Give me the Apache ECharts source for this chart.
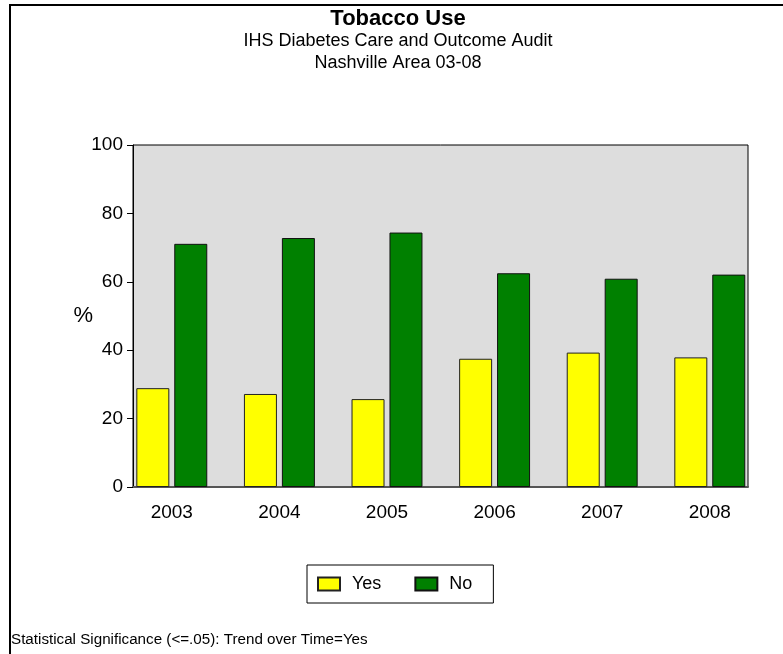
<!DOCTYPE html>
<html>
<head>
<meta charset="utf-8">
<script src="https://cdn.jsdelivr.net/npm/echarts@6/dist/echarts.min.js"></script>
<style>html,body{margin:0;padding:0;background:#fff}#c{width:783px;height:654px}</style>
</head>
<body>
<div id="c"></div>
<script>
var categories = ['2003', '2004', '2005', '2006', '2007', '2008'];
var yesValues = [28.9, 27.2, 25.7, 37.5, 39.3, 37.9];
var noValues = [71.1, 72.8, 74.4, 62.5, 60.9, 62.1];
var yTicks = [0, 20, 40, 60, 80, 100];
var seriesNames = ['Yes', 'No'];

var FONT = '"Liberation Sans", Arial, Helvetica, sans-serif';
var chart = echarts.init(document.getElementById('c'), null, {renderer: 'canvas'});

chart.setOption({
  backgroundColor: '#ffffff',
  animation: false,
  textStyle: {fontFamily: FONT, color: '#000'},
  title: [{
    text: 'Tobacco Use',
    subtext: 'IHS Diabetes Care and Outcome Audit\nNashville Area 03-08',
    left: 398, top: 8, padding: 0, itemGap: 0,
    textAlign: 'center',
    textStyle: {fontFamily: FONT, fontSize: 22, fontWeight: 'bold', color: '#000', lineHeight: 22},
    subtextStyle: {fontFamily: FONT, fontSize: 18, color: '#000', lineHeight: 22}
  }, {
    text: 'Statistical Significance (<=.05): Trend over Time=Yes',
    left: 11, top: 632, padding: 0,
    textStyle: {fontFamily: FONT, fontSize: 15.2, fontWeight: 'normal', color: '#000'}
  }],
  graphic: [{
    type: 'rect', silent: true, z: 100,
    shape: {x: 10, y: 5, width: 900, height: 900},
    style: {fill: 'none', stroke: '#000', lineWidth: 2}
  }],
  legend: {
    data: seriesNames,
    left: 307, top: 565,
    orient: 'horizontal',
    padding: [10, 21, 10, 10],
    itemGap: 33,
    itemWidth: 22, itemHeight: 13,
    icon: 'rect',
    borderColor: '#000', borderWidth: 1,
    textStyle: {fontFamily: FONT, fontSize: 18, color: '#000', padding: [0, 0, 0, 7]}
  },
  grid: [
    {left: 118, right: 19.4, top: 145, bottom: 167},
    {left: 133, right: 35, top: 145, bottom: 167, show: true,
     backgroundColor: '#dddddd', borderColor: '#000', borderWidth: 1}
  ],
  xAxis: [{
    type: 'category', gridIndex: 0, data: categories, boundaryGap: true,
    axisLine: {show: false}, axisTick: {show: false},
    axisLabel: {fontFamily: FONT, fontSize: 19, color: '#000', margin: 16}
  }, {
    type: 'value', gridIndex: 1, min: 0, max: 1,
    axisLine: {show: true, lineStyle: {color: '#555', width: 2}},
    axisTick: {show: false}, axisLabel: {show: false}, splitLine: {show: false}
  }],
  yAxis: [{
    type: 'value', gridIndex: 0, min: 0, max: 100,
    show: false, splitLine: {show: false}
  }, {
    type: 'value', gridIndex: 1, min: 0, max: 100, interval: 20,
    name: '%', nameLocation: 'middle', nameRotate: 0, nameGap: 40,
    nameMoveOverlap: false,
    nameTextStyle: {fontFamily: FONT, fontSize: 22, color: '#000',
      align: 'right', verticalAlign: 'middle', padding: [0, 0, 22, 0]},
    axisLine: {show: true, lineStyle: {color: '#000', width: 1}},
    axisTick: {show: true, inside: false, length: 6, lineStyle: {color: '#000'}},
    axisLabel: {fontFamily: FONT, fontSize: 19, color: '#000', margin: 10,
      formatter: function (v) { return yTicks.indexOf(v) >= 0 ? String(v) : ''; }},
    splitLine: {show: false}
  }],
  series: [{
    name: seriesNames[0], type: 'bar', xAxisIndex: 0, yAxisIndex: 0,
    data: yesValues, barWidth: 33, barGap: '15%',
    itemStyle: {color: '#ffff00', borderColor: '#222', borderWidth: 1}
  }, {
    name: seriesNames[1], type: 'bar', xAxisIndex: 0, yAxisIndex: 0,
    data: noValues, barWidth: 33, barGap: '15%',
    itemStyle: {color: '#008000', borderColor: '#111', borderWidth: 1}
  }]
});
</script>
</body>
</html>
